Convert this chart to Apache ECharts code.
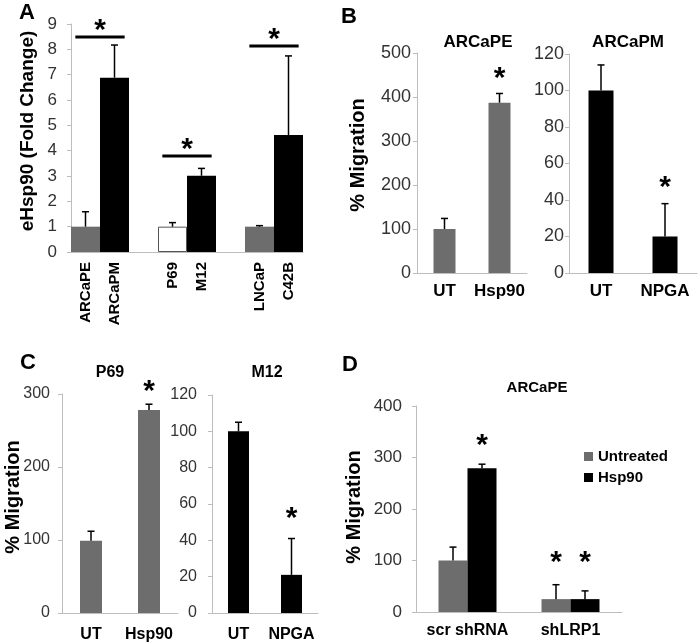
<!DOCTYPE html>
<html>
<head>
<meta charset="utf-8">
<script src="https://cdn.jsdelivr.net/npm/echarts@6/dist/echarts.min.js"></script>
<style>
  html, body { margin: 0; padding: 0; background: #fff; }
  #chart { width: 700px; height: 644px; }
</style>
</head>
<body>
<div id="chart"></div>
<script>
// panel A: fold change, blank categories are spacers between cell-line pairs
const catsA = ['ARCaPE', 'ARCaPM', '', 'P69', 'M12', '', 'LNCaP', 'C42B']
const meanA = [1.0, 6.88, null, 1.0, 3.01, null, 1.0, 4.62]
const sdA = [0.59, 1.29, null, 0.16, 0.29, null, 0.04, 3.12]
const sigA = [[0, 1, 8.49], [3, 4, 3.79], [6, 7, 8.13]]  // [from, to, bar height]

// panel B
const catsB1 = ['UT', 'Hsp90']
const meanB1 = [100, 387]
const sdB1 = [24, 21]
const starB1 = [[1, 455]]
const catsB2 = ['UT', 'NPGA']
const meanB2 = [100, 20]
const sdB2 = [14, 18]
const starB2 = [[1, 50]]

// panel C
const catsC1 = ['UT', 'Hsp90']
const meanC1 = [99, 278]
const sdC1 = [13, 8]
const starC1 = [[1, 312]]
const catsC2 = ['UT', 'NPGA']
const meanC2 = [100, 21]
const sdC2 = [5, 20]
const starC2 = [[1, 55]]

// panel D
const catsD = ['scr shRNA', 'shLRP1']
const untreatedD = [100, 25]
const sdUntreatedD = [26, 28]
const starUntreatedD = [[1, 107]]
const hsp90D = [279, 25]
const sdHsp90D = [8, 16]
const starHsp90D = [[0, 334], [1, 107]]

const FONT = '"Liberation Sans", Arial, sans-serif'
const GRAY = '#6d6d6d'
const AXIS = '#bdbdbd'
const colorA = { ARCaPE: GRAY, ARCaPM: '#000', P69: '#fff', M12: '#000', LNCaP: GRAY, C42B: '#000' }

const chart = echarts.init(document.getElementById('chart'))

// error bars (upper only) drawn from the bar top
const errItem = (dx) => (params, api) => {
  const base = api.coord([api.value(0), api.value(1)])
  const top = api.coord([api.value(0), api.value(1) + api.value(2)])
  const x = base[0] + dx
  const st = { stroke: '#000', lineWidth: 1.5 }
  return {
    type: 'group',
    children: [
      { type: 'line', shape: { x1: x, y1: base[1], x2: x, y2: top[1] }, style: st },
      { type: 'line', shape: { x1: x - 3.5, y1: top[1], x2: x + 3.5, y2: top[1] }, style: st }
    ]
  }
}
const starText = (x, y) => ({
  type: 'text', x: x, y: y + 6,
  style: { text: '*', font: 'bold 30px ' + FONT, fill: '#000', align: 'center', verticalAlign: 'middle', textAlign: 'center', textVerticalAlign: 'middle' }
})
const starItem = (dx) => (params, api) => {
  const p = api.coord([api.value(0), api.value(1)])
  return starText(p[0] + dx, p[1])
}
const sigItem = (params, api) => {
  const band = api.size([1, 0])[0]
  const a = api.coord([api.value(0), api.value(2)])
  const b = api.coord([api.value(1), api.value(2)])
  const x1 = a[0] - band * 0.35
  const x2 = b[0] + band * 0.35
  return {
    type: 'group',
    children: [
      { type: 'line', shape: { x1: x1, y1: a[1], x2: x2, y2: a[1] }, style: { stroke: '#000', lineWidth: 3 } },
      starText((x1 + x2) / 2, a[1] - 12)
    ]
  }
}

const errData = (mean, sd) => mean.map((m, i) => (m == null ? null : [i, m, sd[i]])).filter(Boolean)

const yAxisBase = (gi, max, step, fs, margin) => ({
  type: 'value', gridIndex: gi, min: 0, max: max, interval: step,
  axisLine: { show: true, lineStyle: { color: AXIS, width: 1 } },
  axisTick: { show: true, length: 4, lineStyle: { color: AXIS } },
  splitLine: { show: false },
  axisLabel: { fontSize: fs, color: '#333', fontFamily: FONT, margin: margin }
})
const xAxisBase = (gi, cats, fs, margin, extra) => Object.assign({
  type: 'category', gridIndex: gi, data: cats,
  axisLine: { lineStyle: { color: AXIS, width: 1 } },
  axisTick: { show: false },
  axisLabel: { interval: 0, fontSize: fs, fontWeight: 'bold', color: '#000', fontFamily: FONT, margin: margin }
}, extra || {})

const simpleBars = (gi, mean, sd, stars, color, width) => [
  { name: 'bars' + gi, type: 'bar', xAxisIndex: gi, yAxisIndex: gi, data: mean, barWidth: width, itemStyle: { color: color } },
  { type: 'custom', xAxisIndex: gi, yAxisIndex: gi, renderItem: errItem(0), data: errData(mean, sd), z: 5 },
  { type: 'custom', xAxisIndex: gi, yAxisIndex: gi, renderItem: starItem(0), data: stars, z: 5 }
]

const textG = (text, x, y, size, rot) => ({
  type: 'text', x: x, y: y, rotation: rot || 0,
  style: { text: text, font: 'bold ' + size + 'px ' + FONT, fill: '#000', align: 'center', verticalAlign: 'middle', textAlign: 'center', textVerticalAlign: 'middle' }
})

const option = {
  animation: false,
  backgroundColor: '#fff',
  textStyle: { fontFamily: FONT },
  grid: [
    { left: 71, top: 24, width: 232, height: 228 },
    { left: 417, top: 53, width: 110, height: 220 },
    { left: 569, top: 54, width: 128, height: 219 },
    { left: 62, top: 394, width: 116, height: 219 },
    { left: 212, top: 395, width: 106, height: 218 },
    { left: 416, top: 406, width: 206, height: 206 }
  ],
  xAxis: [
    xAxisBase(0, catsA, 15, 10, { axisLabel: { interval: 0, rotate: 90, fontSize: 15, fontWeight: 'bold', color: '#000', fontFamily: FONT, margin: 10 } }),
    xAxisBase(1, catsB1, 17, 10),
    xAxisBase(2, catsB2, 17, 10),
    xAxisBase(3, catsC1, 16, 14),
    xAxisBase(4, catsC2, 16, 14),
    xAxisBase(5, catsD, 16, 11)
  ],
  yAxis: [
    yAxisBase(0, 9, 1, 17, 14),
    yAxisBase(1, 500, 100, 18, 6),
    yAxisBase(2, 120, 20, 18, 5),
    yAxisBase(3, 300, 100, 16, 12),
    yAxisBase(4, 120, 20, 16, 15),
    yAxisBase(5, 400, 100, 17, 14)
  ],
  legend: {
    data: ['Untreated', 'Hsp90'],
    orient: 'vertical', left: 579, top: 444,
    icon: 'rect', itemWidth: 9, itemHeight: 9, itemGap: 6,
    textStyle: { fontSize: 15, fontWeight: 'bold', color: '#000', fontFamily: FONT }
  },
  graphic: [
    textG('A', 27, 13, 22), textG('B', 349, 17, 22), textG('C', 28, 363, 22), textG('D', 350, 365, 22),
    textG('ARCaPE', 478, 42, 17), textG('ARCaPM', 628, 42, 17),
    textG('P69', 110, 373, 16), textG('M12', 267, 373, 16),
    textG('ARCaPE', 537, 388, 15),
    textG('eHsp90 (Fold Change)', 28, 131, 19, Math.PI / 2),
    textG('% Migration', 358, 155, 20, Math.PI / 2),
    textG('% Migration', 13, 497, 20, Math.PI / 2),
    textG('% Migration', 354, 507, 20, Math.PI / 2)
  ],
  series: [
    {
      name: 'eHsp90', type: 'bar', xAxisIndex: 0, yAxisIndex: 0, barWidth: '100%',
      data: meanA.map((v, i) => ({
        value: v,
        itemStyle: { color: colorA[catsA[i]] || GRAY, borderColor: catsA[i] === 'P69' ? '#555' : 'transparent', borderWidth: catsA[i] === 'P69' ? 1 : 0 }
      }))
    },
    { type: 'custom', xAxisIndex: 0, yAxisIndex: 0, renderItem: errItem(0), data: errData(meanA, sdA), z: 5 },
    { type: 'custom', xAxisIndex: 0, yAxisIndex: 0, renderItem: sigItem, data: sigA, z: 5 },
    ...simpleBars(1, meanB1, sdB1, starB1, GRAY, 22),
    ...simpleBars(2, meanB2, sdB2, starB2, '#000', 25),
    ...simpleBars(3, meanC1, sdC1, starC1, GRAY, 22),
    ...simpleBars(4, meanC2, sdC2, starC2, '#000', 21),
    { name: 'Untreated', type: 'bar', xAxisIndex: 5, yAxisIndex: 5, data: untreatedD, barWidth: 29, barGap: '0%', itemStyle: { color: GRAY } },
    { name: 'Hsp90', type: 'bar', xAxisIndex: 5, yAxisIndex: 5, data: hsp90D, barWidth: 29, barGap: '0%', itemStyle: { color: '#000' } },
    { type: 'custom', xAxisIndex: 5, yAxisIndex: 5, renderItem: errItem(-14.5), data: errData(untreatedD, sdUntreatedD), z: 5 },
    { type: 'custom', xAxisIndex: 5, yAxisIndex: 5, renderItem: errItem(14.5), data: errData(hsp90D, sdHsp90D), z: 5 },
    { type: 'custom', xAxisIndex: 5, yAxisIndex: 5, renderItem: starItem(-14.5), data: starUntreatedD, z: 5 },
    { type: 'custom', xAxisIndex: 5, yAxisIndex: 5, renderItem: starItem(14.5), data: starHsp90D, z: 5 }
  ]
}

chart.setOption(option)
</script>
</body>
</html>
